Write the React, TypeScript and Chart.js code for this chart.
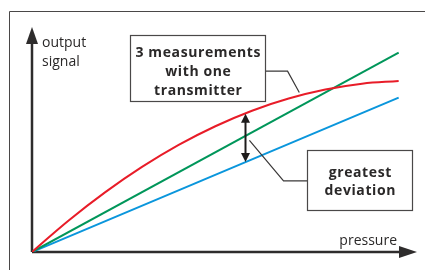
import { useEffect, useRef } from "react";
import { Chart, registerables } from "chart.js";

Chart.register(...registerables);

// ---- data (arbitrary units) ----
const pressure = [0, 10, 20, 30, 40, 50, 60, 70, 80, 90, 100];
const redSignal = [0, 14, 26.6, 37.8, 47.6, 55.9, 62.8, 68.2, 72.2, 74.8, 76];
const linePressure = [0, 100];
const greenSignal = [0, 88.6];
const blueSignal = [0, 68.6];

const yAxisLabel = ["output", "signal"];
const xAxisLabel = "pressure";
const box1Lines = ["3 measurements", "with one", "transmitter"];
const box2Lines = ["greatest", "deviation"];

const RED = "rgb(232,28,40)";
const GREEN = "rgb(0,150,90)";
const BLUE = "rgb(10,150,220)";
const AXIS = "#2e2c2c";
const FONT = '"Open Sans", "Noto Sans", sans-serif';

function arrowHead(ctx: CanvasRenderingContext2D, x: number, y: number, dir: "up" | "down" | "right", len: number, half: number) {
  ctx.beginPath();
  if (dir === "up") {
    ctx.moveTo(x, y);
    ctx.lineTo(x - half, y + len);
    ctx.lineTo(x + half, y + len);
  } else if (dir === "down") {
    ctx.moveTo(x, y);
    ctx.lineTo(x - half, y - len);
    ctx.lineTo(x + half, y - len);
  } else {
    ctx.moveTo(x, y);
    ctx.lineTo(x - len, y - half);
    ctx.lineTo(x - len, y + half);
  }
  ctx.closePath();
  ctx.fill();
}

const decorPlugin = {
  id: "decor",
  beforeDatasetsDraw(chart: any) {
    const ctx: CanvasRenderingContext2D = chart.ctx;
    const xs = chart.scales.x;
    const ys = chart.scales.y;
    const ox = xs.getPixelForValue(0);
    const oy = ys.getPixelForValue(0);
    const top = chart.chartArea.top;
    const right = chart.chartArea.right;
    ctx.save();
    // outer frame (left + top)
    ctx.strokeStyle = "#4a4848";
    ctx.lineWidth = 1;
    ctx.beginPath();
    ctx.moveTo(9.5, chart.height);
    ctx.lineTo(9.5, 11.5);
    ctx.lineTo(chart.width, 11.5);
    ctx.stroke();
    // axes
    ctx.strokeStyle = AXIS;
    ctx.fillStyle = AXIS;
    ctx.lineWidth = 2.5;
    ctx.beginPath();
    ctx.moveTo(ox, oy);
    ctx.lineTo(ox, top + 10);
    ctx.moveTo(ox, oy);
    ctx.lineTo(right - 10, oy);
    ctx.stroke();
    arrowHead(ctx, ox, top, "up", 17, 6);
    arrowHead(ctx, right, oy, "right", 18, 6);
    // axis labels
    ctx.fillStyle = "#2a2828";
    ctx.font = `14px ${FONT}`;
    ctx.textAlign = "left";
    ctx.textBaseline = "alphabetic";
    ctx.fillText(yAxisLabel[0], ox + 10, top + 20);
    ctx.fillText(yAxisLabel[1], ox + 10, top + 39);
    ctx.textAlign = "right";
    ctx.fillText(xAxisLabel, right - 20, oy - 7.5);
    ctx.restore();
  },
  afterDatasetsDraw(chart: any) {
    const ctx: CanvasRenderingContext2D = chart.ctx;
    const xs = chart.scales.x;
    const ys = chart.scales.y;
    const px = (v: number) => xs.getPixelForValue(v);
    const py = (v: number) => ys.getPixelForValue(v);
    ctx.save();

    // double arrow (greatest deviation) at pressure 58
    const ax = Math.round(px(58)) + 0.5;
    const aTop = py(61.4);
    const aBot = py(40.0);
    ctx.strokeStyle = "#1e1c1c";
    ctx.fillStyle = "#1e1c1c";
    ctx.lineWidth = 2;
    ctx.beginPath();
    ctx.moveTo(ax, aTop + 8);
    ctx.lineTo(ax, aBot - 8);
    ctx.stroke();
    arrowHead(ctx, ax, aTop, "up", 9, 4.5);
    arrowHead(ctx, ax, aBot, "down", 9, 4.5);

    // leader lines
    ctx.strokeStyle = "#3a3838";
    ctx.lineWidth = 1.2;
    ctx.beginPath();
    ctx.moveTo(px(63.6), py(80.4));
    ctx.lineTo(px(69.7), py(80.4));
    ctx.lineTo(px(72.9), py(70.9));
    ctx.moveTo(px(75.0), py(31.6));
    ctx.lineTo(px(68.6), py(31.6));
    ctx.lineTo(px(59.3), py(49.6));
    ctx.stroke();

    // boxes
    const box = (x0: number, y0: number, x1: number, y1: number, lines: string[], firstBase: number, gap: number) => {
      const l = Math.round(px(x0)) + 0.5;
      const r = Math.round(px(x1)) + 0.5;
      const t = Math.round(py(y0)) + 0.5;
      const b = Math.round(py(y1)) + 0.5;
      ctx.fillStyle = "#ffffff";
      ctx.fillRect(l, t, r - l, b - t);
      ctx.strokeStyle = "#4a4848";
      ctx.lineWidth = 1.2;
      ctx.strokeRect(l, t, r - l, b - t);
      ctx.fillStyle = "#2a2828";
      ctx.font = `bold 14px ${FONT}`;
      (ctx as any).letterSpacing = "0.6px";
      ctx.textAlign = "center";
      ctx.textBaseline = "alphabetic";
      const cx = (l + r) / 2 + 0.3;
      lines.forEach((s, i) => ctx.fillText(s, cx, t + firstBase + i * gap));
      (ctx as any).letterSpacing = "0px";
    };
    box(26.7, 96.6, 63.6, 67.0, box1Lines, 21.5, 19);
    box(75.0, 45.2, 103.6, 18.7, box2Lines, 26, 18.8);

    ctx.restore();
  },
};

export default function App() {
  const ref = useRef<HTMLCanvasElement | null>(null);
  useEffect(() => {
    document.body.style.margin = "0";
    const canvas = ref.current;
    if (!canvas) return;
    const chart = new Chart(canvas, {
      type: "line",
      data: {
        datasets: [
          {
            label: "measurement 1",
            data: pressure.map((p, i) => ({ x: p, y: redSignal[i] })),
            borderColor: RED,
            borderWidth: 2,
            pointRadius: 0,
            tension: 0.4,
          },
          {
            label: "measurement 2",
            data: linePressure.map((p, i) => ({ x: p, y: greenSignal[i] })),
            borderColor: GREEN,
            borderWidth: 2,
            pointRadius: 0,
          },
          {
            label: "measurement 3",
            data: linePressure.map((p, i) => ({ x: p, y: blueSignal[i] })),
            borderColor: BLUE,
            borderWidth: 2,
            pointRadius: 0,
          },
        ],
      },
      options: {
        responsive: false,
        animation: false,
        devicePixelRatio: 1,
        layout: { padding: { left: 32, right: 8, top: 27, bottom: 18 } },
        scales: {
          x: { type: "linear", min: 0, max: 105, display: false },
          y: { type: "linear", min: 0, max: 100, display: false },
        },
        plugins: {
          legend: { display: false },
          tooltip: { enabled: false },
        },
        events: [],
      } as any,
      plugins: [decorPlugin],
    });
    return () => chart.destroy();
  }, []);
  return <canvas ref={ref} width={425} height={270} style={{ display: "block" }} />;
}
